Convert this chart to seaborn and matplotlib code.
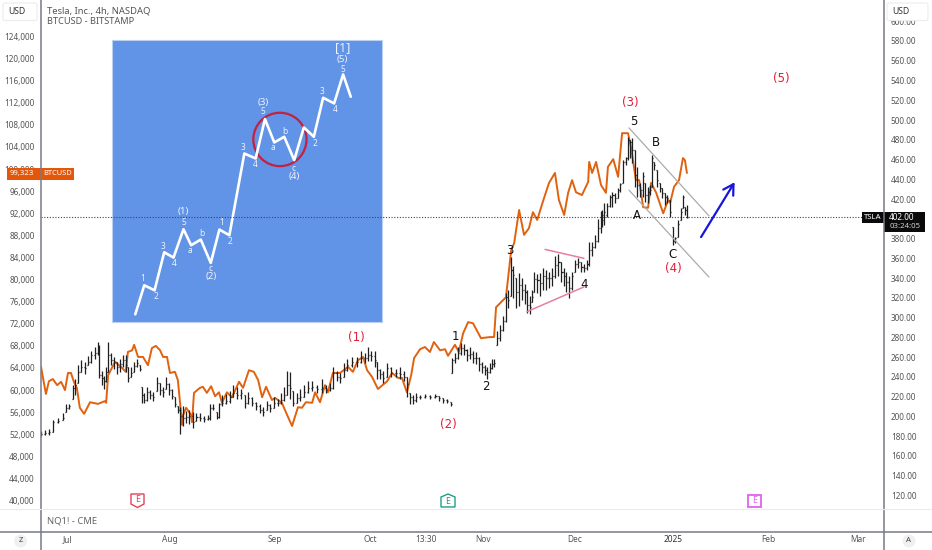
import numpy as np
import pandas as pd
import matplotlib.pyplot as plt
import seaborn as sns
from matplotlib.patches import Circle, FancyBboxPatch, Polygon, Rectangle

# axis ticks
btc_ticks = list(range(40000, 128000, 4000))
tsla_ticks = list(range(120, 620, 20))
month_days = [0, 31, 63, 92, 108.8, 126, 154, 184, 213, 240]
month_labels = ['Jul', 'Aug', 'Sep', 'Oct', '13:30', 'Nov', 'Dec', '2025', 'Feb', 'Mar']

# BTCUSD overlay line
btc_days = [-8.2, -6.7, -5.8, -4.6, -3.3, -2.1, -0.9, 0, 0.9, 1.8, 2.7, 3.6, 4.9, 6.7, 9.1, 11.2, 11.6, 12.2, 14.3, 16.1,
            17.6, 18.2, 19.5, 20.1, 21.3, 22.8, 24.3, 25.5, 26.7, 28, 28.9, 30.1, 31, 32.5, 33.4, 34.7, 35, 35.9, 37.4, 37.7,
            38.3, 40.1, 41, 42.2, 43.5, 44.7, 45.9, 46.8, 48.3, 49.8, 52, 53.2, 55, 56.5, 57.8, 59, 60.2, 62, 62.9, 65,
            66.6, 68.1, 69.9, 71.1, 72.3, 74.2, 75.1, 76.6, 78.1, 79, 80.5, 82.7, 85.1, 86.6, 88.1, 89.7, 90.9, 92.4, 94.2, 97,
            98.5, 100.3, 101.5, 103, 104.3, 105.2, 107, 108.5, 110, 111.2, 113.1, 114.6, 115.5, 117.6, 118.8, 120.1, 121.6, 123.1, 125.5, 128.3,
            129.5, 130.1, 133.1, 134.7, 135.6, 137.1, 138.6, 140.1, 141.3, 142.6, 144.7, 146.2, 148, 149.2, 150.8, 152, 153.2, 154.4, 156.2, 158.1,
            158.4, 159.3, 160.5, 162, 163.5, 164.1, 165.7, 167.2, 168.4, 170.2, 171.1, 172.6, 173.6, 174.8, 176.3, 177.2, 178.7, 180.9, 182.4, 183,
            184.2, 185.7, 186.9, 187.5, 188.1]
btc_close = [64200, 59300, 61600, 62000, 60900, 61500, 60000, 63100, 63100, 61500, 60400, 56800, 55700, 57800, 57500, 58000, 57700, 62700, 65100, 64200,
             63300, 66900, 67200, 68200, 66000, 66000, 64500, 67600, 68000, 67200, 66000, 66000, 63100, 63300, 61800, 53700, 55500, 56800, 55500, 54200,
             59500, 60400, 60600, 59500, 60700, 58900, 59600, 57700, 59600, 58700, 61500, 60400, 63600, 63300, 61800, 58700, 60600, 58200, 58600, 57700,
             55500, 53500, 56900, 56800, 57800, 57700, 59600, 57800, 60900, 59600, 63100, 63100, 64200, 63300, 65400, 66000, 63600, 62400, 60200, 61600,
             63100, 62200, 62200, 59600, 62700, 65800, 67400, 67800, 66900, 68700, 67200, 67400, 66200, 68200, 66900, 70300, 72300, 72100, 69400, 69600,
             69600, 75000, 76800, 85300, 86600, 92600, 88100, 89300, 92200, 90800, 94800, 97500, 99300, 94400, 91700, 95700, 98000, 95800, 95300, 97700,
             101300, 99300, 101300, 97100, 95700, 100400, 101800, 98600, 106500, 106500, 104000, 98000, 98000, 93100, 93000, 97500, 95800, 92000, 94400, 93900,
             96800, 98000, 102000, 101600, 99300]

# TSLA bars
tsla_days = [-8.2, -7, -5.8, -4.6, -3, -1.5, -0.6, 0.3, 1.5, 2.1, 3, 4, 5.2, 6.1, 7, 8.2, 9.1, 9.4, 10.3, 10.9,
             11.6, 12.2, 13.1, 14, 14.9, 15.8, 16.7, 17.6, 18.2, 19.1, 20.1, 21, 21.9,
             22.5, 23.1, 24, 24.9, 25.8, 27.1, 28, 28.9, 29.8, 30.7, 31.6, 32.5, 33.4, 34, 35, 35.9, 36.8, 38,
             39, 40.1, 41.3, 42.6, 43.2, 44.1, 45.3, 45.9, 46.8, 48, 49.2, 50.2, 51.4, 52.6, 53.8, 54.7, 55.9, 57.1, 58.4,
             59.3, 60.5, 61.4, 62.6, 63.8, 64.7, 65.6, 66.6, 67.5, 68.4, 69.6, 70.5, 71.7, 72.9, 74.2, 75.7, 77.2, 78.4, 79.6, 80.5,
             81.8, 82.7, 83.9, 84.8, 86.3, 87.8, 89, 90.3, 91.2, 92.1, 93.3, 93.9, 94.8, 95.7, 97, 98.2, 99.7, 100.9, 102.1, 103,
             104, 104.9, 105.8, 107, 108.5, 110, 111.6, 112.8, 114, 115.2, 116.4,
             116.7, 117.6, 118.5, 119.4, 120.3, 121.2, 122.2, 123.1, 124, 124.9, 125.8, 126.7, 127.4, 128.3, 128.9, 129.5,
             130.4, 131.3, 132.2, 133.1, 133.7, 134.7, 135.3, 136.2, 137.1, 138, 139, 139.5, 140.4, 141,
             141.6, 142.6, 143.5, 144.4, 145.3, 146.2, 147.1, 148, 149, 149.9, 150.8, 151.4, 152.3, 153.2,
             154.1, 155, 156, 156.8, 157.8, 158.4, 159.3, 160.2, 161.1, 162, 162.9,
             162.3, 163.8, 164.7, 165.4, 166.3, 167.2, 167.8, 168.7, 169.6, 170.2, 170.8, 171.4, 172.3, 172.9, 173.8, 174.8, 175.4, 176.3, 176.9, 177.5,
             178.1, 179, 179.9, 180.5, 181.4, 182.1, 183, 183.9, 184.5, 185.4, 186.3, 186.9, 187.5, 188.1]
tsla_close = [182, 183, 184, 194, 195, 198, 208, 210, 229, 232, 245, 250, 249, 255, 262, 264, 269, 242, 239, 236,
              245, 262, 257, 255, 250, 253, 257, 252, 239, 244, 251, 254, 248,
              222, 217, 225, 222, 220, 234, 227, 225, 233, 227, 221, 212, 206, 200, 198, 199, 200, 194,
              199, 198, 197, 198, 208, 208, 199, 213, 214, 216, 220, 224, 222, 224, 214, 219, 214, 210, 206,
              204, 211, 208, 214, 214, 217, 222, 232, 229, 214, 219, 220, 225, 229, 230, 228, 229, 227, 229, 244,
              240, 239, 247, 252, 255, 255, 259, 259, 262, 261, 257, 247, 243, 239, 249, 244, 244, 243, 240, 233,
              220, 217, 220, 220, 221, 220, 221, 219, 217, 216, 212,
              257, 259, 264, 269, 267, 262, 263, 259, 259, 253, 250, 247, 245, 249, 253, 254,
              279, 287, 297, 321, 318, 348, 343, 326, 333, 328, 326, 313, 311, 321,
              339, 338, 335, 342, 340, 340, 342, 353, 356, 346, 342, 336, 330, 342,
              354, 356, 351, 350, 354, 368, 371, 378, 391, 399, 407,
              404, 413, 422, 424, 421, 429, 435, 458, 462, 480, 478, 470, 444, 434, 429, 443, 424, 427, 429, 462,
              454, 439, 431, 426, 422, 421, 407, 378, 381, 395, 407, 422, 409, 402]
tsla_high = [185, 186, 187, 196, 198, 203, 212, 213, 232, 238, 252, 257, 255, 261, 266, 270, 275, 272, 246, 241,
             250, 275, 264, 260, 255, 258, 262, 262, 250, 250, 255, 258, 252,
             230, 224, 230, 227, 225, 240, 234, 230, 240, 234, 228, 220, 210, 209, 210, 205, 206, 204,
             203, 203, 200, 201, 213, 212, 204, 214, 222, 223, 226, 232, 230, 228, 222, 225, 220, 215, 212,
             209, 216, 213, 220, 218, 224, 230, 246, 245, 226, 224, 228, 232, 236, 236, 232, 238, 232, 234, 250,
             246, 244, 254, 258, 260, 260, 266, 264, 270, 266, 266, 255, 248, 246, 254, 250, 248, 250, 246, 240,
             224, 222, 224, 222, 223, 222, 223, 221, 219, 218, 215,
             259, 264, 270, 274, 273, 268, 270, 266, 265, 260, 255, 252, 250, 254, 258, 258,
             286, 292, 302, 325, 328, 361, 352, 340, 345, 340, 334, 328, 322, 328,
             346, 344, 345, 350, 348, 346, 350, 362, 364, 356, 350, 346, 342, 346,
             358, 360, 356, 354, 358, 376, 376, 384, 400, 408, 416,
             409, 416, 424, 427, 426, 431, 436, 460, 463, 483, 480, 482, 470, 452, 436, 447, 436, 432, 434, 465,
             458, 449, 436, 431, 426, 424, 419, 392, 382, 399, 411, 424, 412, 414]
tsla_low = [180, 181, 181, 184, 193, 196, 204, 207, 218, 222, 234, 245, 243, 252, 254, 258, 262, 239, 232, 228,
            235, 245, 252, 248, 243, 245, 250, 245, 235, 240, 245, 250, 246,
            214, 214, 216, 218, 216, 226, 222, 220, 228, 222, 218, 209, 203, 182, 190, 193, 192, 188,
            195, 195, 194, 196, 196, 206, 197, 198, 210, 212, 214, 220, 218, 218, 208, 212, 210, 206, 203,
            200, 206, 204, 208, 210, 212, 216, 222, 218, 210, 214, 216, 220, 224, 226, 224, 224, 224, 226, 228,
            236, 234, 240, 246, 250, 250, 254, 254, 256, 256, 250, 238, 238, 234, 240, 240, 240, 238, 236, 220,
            212, 212, 215, 218, 219, 218, 219, 216, 214, 214, 210,
            244, 254, 258, 262, 262, 256, 258, 254, 253, 246, 244, 242, 238, 244, 248, 250,
            272, 276, 286, 296, 310, 322, 320, 310, 312, 318, 314, 305, 304, 316,
            326, 325, 322, 328, 328, 330, 332, 340, 342, 336, 332, 326, 320, 328,
            346, 350, 346, 346, 348, 352, 362, 370, 376, 386, 394,
            392, 402, 412, 412, 416, 421, 427, 436, 454, 460, 462, 456, 432, 422, 422, 422, 417, 416, 424, 432,
            449, 432, 427, 421, 414, 416, 402, 373, 375, 382, 399, 411, 404, 401]

# wave labels on the chart: text, day, TSLA price
red_labels = ['(1)', '(2)', '(3)', '(4)', '(5)']
red_days = [87.5, 115.5, 170.8, 183.9, 216.7]
red_prices = [280, 192, 518, 350, 542]
black_labels = ['1', '2', '3', '4', '5', 'A', 'B', 'C']
black_days = [117.6, 127.1, 134.4, 156.8, 172, 173, 178.7, 183.6]
black_prices = [281, 230, 368, 333, 499, 403, 477, 364]

# drawn trendlines
triangle_top_days = [145, 156.8]
triangle_top_prices = [369, 360]
triangle_bottom_days = [139.5, 156.8]
triangle_bottom_prices = [306, 331]
channel_top_days = [170.5, 194.8]
channel_top_prices = [492, 403]
channel_bottom_days = [170.5, 194.8]
channel_bottom_prices = [429, 341]

# inset wave sketch
wave_x = [75, 102, 133, 162, 190, 220, 243, 272, 302, 328, 358, 403, 437, 465, 493, 523, 553, 582, 612, 640, 673, 700, 723]
wave_level = [23, 110, 95, 209, 193, 278, 230, 247, 177, 277, 260, 505, 490, 608, 538, 555, 485, 583, 555, 672, 655, 742, 675]
inset_labels = ['1', '2', '3', '4', '5', '(1)', 'a', 'b', 'c', '(2)', '1', '2', '3', '4', '5', '(3)', 'a', 'b', 'c', '(4)', '2', '3', '4', '5', '(5)', '[1]']
inset_label_x = [98, 137, 157, 193, 221, 220, 240, 276, 302, 302, 335, 360, 400, 435, 459, 460, 490, 526, 552, 552, 615, 637, 675, 699, 699, 700]
inset_label_level = [129, 75, 227, 176, 298, 332, 213, 264, 161, 135, 297, 240, 524, 472, 631, 658, 522, 570, 461, 437, 535, 690, 637, 758, 787, 821]

sns.set_theme(style='white')
plt.rcParams['font.family'] = ['Noto Sans', 'DejaVu Sans']

W, H = 932, 550
fig = plt.figure(figsize=(W / 100, H / 100), dpi=100, facecolor='white')


def px_axes(left, top, right, bottom, **kw):
    return fig.add_axes([left / W, 1 - bottom / H, (right - left) / W, (bottom - top) / H], **kw)


# inset first, the price line runs over it
inset = px_axes(112, 40, 382, 322, zorder=1)
inset.set_facecolor('#6193E6')
inset.set_xlim(5, 817)
inset.set_ylim(0, 845)
inset.set_xticks([])
inset.set_yticks([])
for s in inset.spines.values():
    s.set_color('#bcd0f2')
    s.set_linewidth(0.8)
sns.lineplot(x=wave_x, y=wave_level, ax=inset, sort=False, estimator=None, color='white', linewidth=1.9)
inset.add_patch(Circle((510, 547), 80, fill=False, ec='#C4203F', lw=1.6))
for t, x, y in zip(inset_labels, inset_label_x, inset_label_level):
    if t == '[1]':
        size = 9
    elif t.startswith('('):
        size = 7
    else:
        size = 6
    inset.text(x, y, t, color='#eef2fb', fontsize=size, fontweight='bold', ha='center', va='center')

ax = px_axes(41, 0, 884, 509, zorder=2)
ax.patch.set_visible(False)
ax.set_xlim(-8.2, 248)
ax.set_ylim(38477, 130606)
sns.lineplot(x=btc_days, y=btc_close, ax=ax, sort=False, estimator=None, color='#E0620F', linewidth=1.4, zorder=3)
ax.set_yticks(btc_ticks)
ax.set_yticklabels([f'{v:,}' for v in btc_ticks], fontsize=5.9, color='#555555')
ax.set_xticks(month_days)
ax.set_xticklabels(month_labels, fontsize=6, color='#555555')
ax.get_xticklabels()[7].set_color('#333333')
ax.tick_params(axis='y', length=0, pad=4.5)
ax.tick_params(axis='x', length=0, pad=19)
for s in ax.spines.values():
    s.set_visible(False)

tx = ax.twinx()
tx.set_ylim(106.2, 621.5)
tx.patch.set_visible(False)
bars = pd.DataFrame({'day': tsla_days, 'close': tsla_close, 'high': tsla_high, 'low': tsla_low})
bars['open'] = bars['close'].shift(1).fillna(bars['close']).clip(bars['low'], bars['high'])
tx.vlines(bars['day'], bars['low'], bars['high'], color='#1f1f1f', lw=0.9, zorder=2)
tx.hlines(bars['close'], bars['day'], bars['day'] + 0.4, color='#1f1f1f', lw=0.9, zorder=2)
tx.hlines(bars['open'], bars['day'] - 0.4, bars['day'], color='#1f1f1f', lw=0.9, zorder=2)
tx.axhline(402, color='#444444', lw=0.8, ls=(0, (1, 1.5)), zorder=1)
tx.set_yticks(tsla_ticks)
tx.set_yticklabels([f'{v:.2f}' for v in tsla_ticks], fontsize=5.9, color='#555555')
tx.tick_params(axis='y', length=0, pad=5)
for s in tx.spines.values():
    s.set_visible(False)

# trendlines and labels
tx.plot(triangle_top_days, triangle_top_prices, color='#E57F9E', lw=1.1)
tx.plot(triangle_bottom_days, triangle_bottom_prices, color='#E57F9E', lw=1.1)
tx.plot(channel_top_days, channel_top_prices, color='#ababab', lw=0.9)
tx.plot(channel_bottom_days, channel_bottom_prices, color='#ababab', lw=0.9)
tx.annotate('', xy=(202.6, 437), xytext=(192.4, 381.5),
            arrowprops=dict(arrowstyle='->,head_length=0.6,head_width=0.35', color='#1616DC', lw=1.6, shrinkA=0, shrinkB=0))
for t, d, p in zip(red_labels, red_days, red_prices):
    tx.text(d, p, t, color='#E01E37', fontsize=8.5, family='DejaVu Sans', ha='center', va='center')
for t, d, p in zip(black_labels, black_days, black_prices):
    tx.text(d, p, t, color='#111111', fontsize=8.5, family='DejaVu Sans', ha='center', va='center')

# everything around the plot, in pixels
frame = px_axes(0, 0, W, H, zorder=5)
frame.set_xlim(0, W)
frame.set_ylim(H, 0)
frame.axis('off')
frame.patch.set_visible(False)
frame.plot([41, 41], [0, H], color='#787b86', lw=1.1)
frame.plot([884, 884], [0, H], color='#787b86', lw=1.1)
frame.plot([0, W], [532, 532], color='#787b86', lw=1.1)
frame.plot([0, W], [509, 509], color='#ececec', lw=0.8)

for x0, x1, cx in [(3, 37, 17), (887, 928, 901)]:
    frame.add_patch(FancyBboxPatch((x0, 3), x1 - x0, 17.5, boxstyle='round,pad=0,rounding_size=2', fc='white', ec='#ececec', lw=0.8))
    frame.text(cx, 11.5, 'USD', fontsize=6.2, color='#333333', ha='center', va='center')

frame.text(47, 11, 'Tesla, Inc., 4h, NASDAQ', fontsize=6.8, color='#555555', fontweight='bold', va='center')
frame.text(47, 22, 'BTCUSD - BITSTAMP', fontsize=6.6, color='#555555', va='center')
frame.text(47, 521, 'NQ1! - CME', fontsize=6.8, color='#666666', va='center')

frame.add_patch(Rectangle((7, 168), 67, 11.5, fc='#E4570B', ec='none'))
frame.text(22, 173.8, '99,323', fontsize=5.6, color='white', fontweight='bold', ha='center', va='center')
frame.text(58, 173.8, 'BTCUSD', fontsize=5.4, color='white', fontweight='bold', ha='center', va='center')
frame.add_patch(Rectangle((862, 212), 22, 10.5, fc='#0a0a0a', ec='none'))
frame.text(873, 217.3, 'TSLA', fontsize=5.6, color='white', fontweight='bold', ha='center', va='center')
frame.add_patch(Rectangle((884, 212), 41, 19.5, fc='#0a0a0a', ec='none'))
frame.text(902, 217.3, '402.00', fontsize=5.9, color='white', ha='center', va='center')
frame.text(905, 226.3, '03:24:05', fontsize=5.6, color='#d0d0d0', ha='center', va='center')

for cx, t in [(20.5, 'Z'), (909, 'A')]:
    frame.add_patch(Circle((cx, 541), 6.5, fc='#f0f0f0', ec='none'))
    frame.text(cx, 541, t, fontsize=5.6, color='#444444', ha='center', va='center')

# earnings flags
frame.add_patch(Polygon([(131, 494), (144, 494), (144, 504), (137.5, 507.5), (131, 504)], fc='white', ec='#E5405A', lw=1))
frame.text(137.5, 500, 'E', fontsize=6.4, color='#E5405A', ha='center', va='center')
frame.add_patch(Polygon([(441, 497), (448, 494), (455, 497), (455, 507), (441, 507)], fc='white', ec='#1F9E89', lw=1))
frame.text(448, 501, 'E', fontsize=6.4, color='#1F9E89', ha='center', va='center')
frame.add_patch(Rectangle((748, 494.5), 13, 12, fc='white', ec='#E061EE', lw=1.3))
frame.text(754.5, 500.5, 'E', fontsize=6.4, color='#E061EE', fontweight='bold', ha='center', va='center')

fig.savefig('out.png', dpi=100)
